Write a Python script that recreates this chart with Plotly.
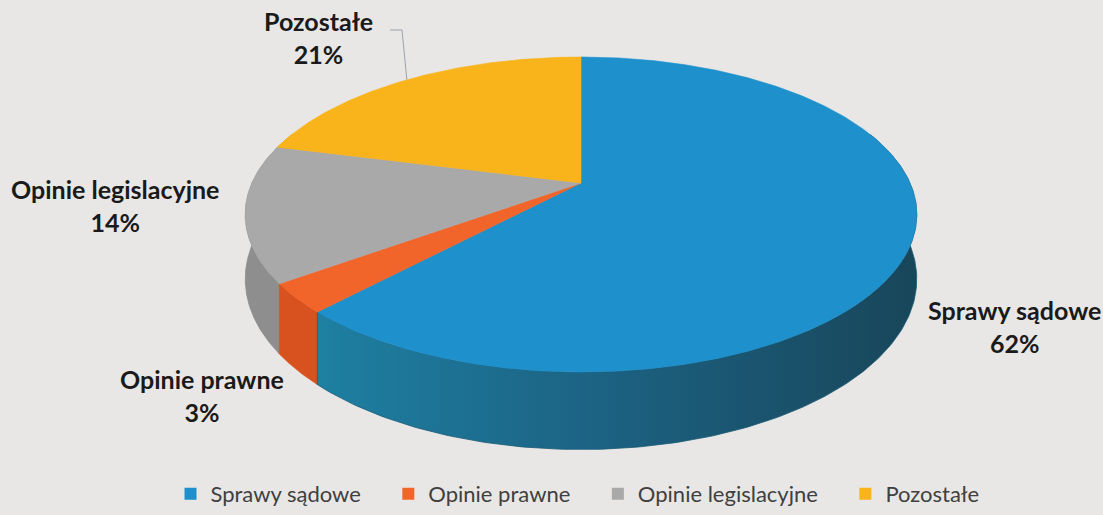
import numpy as np
import plotly.graph_objects as go

# ---- data ----
categories = ["Sprawy sądowe", "Opinie prawne", "Opinie legislacyjne", "Pozostałe"]
values = [62, 3, 14, 21]
top_colors = ["#1e90cc", "#f2652a", "#a9a9a9", "#f9b41c"]
side_colors = ["#1b6f92", "#d8521f", "#8e8e8e", "#d99a14"]

# ---- geometry of the tilted pie (styling) ----
W, Hh = 1103, 515
CX, CY = 581, 183          # apex of slices
A, B = 329, 151.2          # radii
K = 0.2                    # perspective factor
DEPTH = 62                 # wall height
BG = "#e8e7e5"


def proj(t_deg, dz=0.0):
    t = np.radians(t_deg)
    f = 1.0 / (1.0 + K * np.sin(t))
    x = CX + A * np.cos(t) * f
    y = CY - B * np.sin(t) * f + DEPTH * f * dz
    return x, y


total = float(sum(values))
fr = np.array(values) / total
cum = np.concatenate([[0], np.cumsum(fr)])
starts = 90 - 360 * cum[:-1]
ends = 90 - 360 * cum[1:]

fig = go.Figure()

# walls (front part of cylinder)
WALL_LO, WALL_HI = -200.0, 20.0
wall_order = [3, 2, 1, 0]
for i in wall_order:
    lo, hi = ends[i], starts[i]
    a, b = max(lo, WALL_LO), min(hi, WALL_HI)
    if b <= a:
        continue
    ts = np.linspace(a, b, 200)
    xt, yt = proj(ts, 0)
    xb, yb = proj(ts[::-1], 1)
    xs = np.concatenate([xt, xb, xt[:1]])
    ys = np.concatenate([yt, yb, yt[:1]])
    kw = {}
    if i == 0:
        kw["fillgradient"] = dict(type="horizontal",
                                  colorscale=[[0, "#1e80a2"], [0.45, "#1c6384"], [1, "#18465a"]])
    else:
        kw["fillcolor"] = side_colors[i]
    fig.add_trace(go.Scatter(x=xs, y=ys, mode="lines", fill="toself",
                             line=dict(width=0.8, color=side_colors[i] if i else "#1a5a75"),
                             hoverinfo="skip", showlegend=False, **kw))

# top faces
for i in range(len(values)):
    n = max(int(abs(starts[i] - ends[i]) * 2), 10)
    ts = np.linspace(starts[i], ends[i], n)
    xa, ya = proj(ts, 0)
    xs = np.concatenate([[CX], xa, [CX]])
    ys = np.concatenate([[CY], ya, [CY]])
    fig.add_trace(go.Scatter(x=xs, y=ys, mode="lines", fill="toself",
                             fillcolor=top_colors[i],
                             line=dict(width=0.6, color=top_colors[i]),
                             hoverinfo="skip", showlegend=False))

# leader line for "Pozostałe"
mid = (starts[3] + ends[3]) / 2
lx, ly = proj(mid, 0)
fig.add_trace(go.Scatter(x=[390, 402, lx], y=[30, 30, ly], mode="lines",
                         line=dict(width=1, color="#9aa3ad"),
                         hoverinfo="skip", showlegend=False))

# legend entries
NB = "\u00a0" * 4
for i, c in enumerate(categories):
    fig.add_trace(go.Scatter(x=[None], y=[None], mode="markers",
                             marker=dict(symbol="square", size=12, color=top_colors[i]),
                             name=c + (NB if i < len(categories) - 1 else ""), showlegend=True))

# data labels
label_pos = [(1014, 326), (202, 395), (115, 205), (318, 37)]
for i, (x, y) in enumerate(label_pos):
    fig.add_annotation(x=x, y=y, xref="x", yref="y", showarrow=False,
                       text=f"<b>{categories[i]}<br>{values[i]}%</b>",
                       font=dict(family="Lato", size=25, color="#1a1a1a"),
                       align="center")

fig.update_layout(
    width=W, height=Hh, autosize=False,
    margin=dict(l=0, r=0, t=0, b=0),
    paper_bgcolor=BG, plot_bgcolor=BG,
    xaxis=dict(range=[0, W], visible=False, fixedrange=True),
    yaxis=dict(range=[Hh, 0], visible=False, fixedrange=True),
    showlegend=True,
    legend=dict(orientation="h", x=577.5 / W, xanchor="center", y=0, yanchor="bottom",
                font=dict(family="Lato", size=22, color="#404040"),
                bgcolor="rgba(0,0,0,0)", itemclick=False, itemdoubleclick=False),
    hovermode=False,
)

fig.write_html("out.html", config={"displayModeBar": False, "staticPlot": True},
               post_script="document.body.style.margin='0';"
                           "document.body.style.background='" + BG + "';"
                           "document.documentElement.style.background='" + BG + "';")
